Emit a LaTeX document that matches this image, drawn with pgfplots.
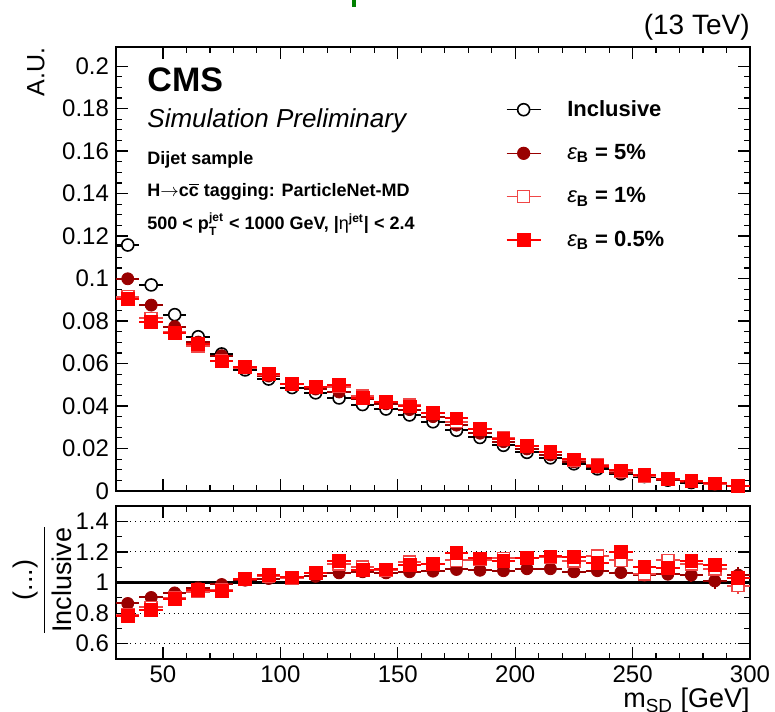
\documentclass[border=0pt]{standalone}
\usepackage{fontspec}
\setmainfont{Liberation Sans}
\usepackage{amsmath}
\usepackage{pgfplots}
\usepackage{pgfplotstable}
\pgfplotsset{compat=1.18}

\definecolor{colfive}{RGB}{153,0,0}
\definecolor{colone}{RGB}{240,70,70}
\definecolor{colhalf}{RGB}{255,0,0}

% normalised m_SD distributions
\pgfplotstableread{
x   inc    p5     p1     p05    me
35  0.1158 0.0999 0.0915 0.0903 0.0010
45  0.0970 0.0875 0.0812 0.0795 0.0010
55  0.0830 0.0774 0.0747 0.0743 0.0009
65  0.0726 0.0701 0.0682 0.0693 0.0008
75  0.0645 0.0637 0.0613 0.0610 0.0008
85  0.0570 0.0579 0.0581 0.0583 0.0007
95  0.0527 0.0541 0.0548 0.0552 0.0007
105 0.0487 0.0502 0.0502 0.0503 0.0007
115 0.0462 0.0480 0.0490 0.0491 0.0006
125 0.0438 0.0466 0.0491 0.0499 0.0006
135 0.0407 0.0435 0.0448 0.0440 0.0006
145 0.0386 0.0410 0.0417 0.0419 0.0006
155 0.0358 0.0383 0.0406 0.0398 0.0006
165 0.0326 0.0350 0.0365 0.0366 0.0005
175 0.0286 0.0310 0.0327 0.0342 0.0005
185 0.0252 0.0272 0.0290 0.0292 0.0005
195 0.0215 0.0232 0.0249 0.0245 0.0005
205 0.0182 0.0198 0.0211 0.0212 0.0004
215 0.0156 0.0170 0.0182 0.0183 0.0004
225 0.0128 0.0137 0.0146 0.0149 0.0004
235 0.0104 0.0112 0.0122 0.0118 0.0004
245 0.0081 0.0086 0.0093 0.0097 0.0003
255 0.0068 0.0071 0.0072 0.0075 0.0003
265 0.0051 0.0054 0.0058 0.0056 0.0003
275 0.0040 0.0042 0.0045 0.0046 0.0003
285 0.0032 0.0032 0.0035 0.0036 0.0003
295 0.0023 0.0024 0.0023 0.0024 0.0002
}\main

% ratios to inclusive
\pgfplotstableread{
x   r5    r1    r05   re
35  0.863 0.790 0.780 0.015
45  0.902 0.837 0.820 0.015
55  0.932 0.900 0.895 0.015
65  0.965 0.940 0.954 0.015
75  0.987 0.950 0.945 0.015
85  1.015 1.020 1.022 0.015
95  1.026 1.040 1.048 0.015
105 1.030 1.030 1.033 0.015
115 1.040 1.060 1.063 0.015
125 1.063 1.120 1.140 0.018
135 1.070 1.100 1.080 0.018
145 1.063 1.080 1.085 0.018
155 1.070 1.135 1.113 0.020
165 1.074 1.120 1.124 0.020
175 1.085 1.145 1.196 0.022
185 1.080 1.150 1.157 0.022
195 1.077 1.157 1.140 0.025
205 1.090 1.160 1.163 0.025
215 1.090 1.165 1.170 0.028
225 1.070 1.140 1.167 0.030
235 1.077 1.175 1.130 0.032
245 1.065 1.145 1.200 0.035
255 1.048 1.054 1.100 0.038
265 1.054 1.145 1.095 0.040
275 1.048 1.120 1.140 0.045
285 1.010 1.090 1.113 0.050
295 1.048 0.980 1.030 0.055
}\ratio

\pgfplotsset{
  cms/.style={
    scale only axis, width=317pt,
    xmin=30, xmax=300,
    xtick={50,100,...,300}, minor x tick num=4,
    major tick length=6pt, minor tick length=3pt,
    tick style={black, line width=0.6pt},
    axis line style={line width=0.9pt},
    tick label style={font=\fontsize{12}{14}\selectfont},
    /pgf/number format/assume math mode=true,
    scaled y ticks=false,
    yticklabel style={/pgf/number format/fixed, /pgf/number format/precision=2},
  },
  pts/.style={only marks, forget plot,
    error bars/.cd, x dir=both, x fixed=5, y dir=both, y explicit,
    error mark=none, error bar style={line width=1pt, solid}},
  sinc/.style={color=black, mark=*, mark size=3pt, mark options={fill=white, line width=0.8pt}},
  sfive/.style={color=colfive, mark=*, mark size=3pt},
  sone/.style={color=colone, mark=square*, mark size=3pt, mark options={fill=white, line width=0.8pt}},
  shalf/.style={color=colhalf, mark=square*, mark size=3.2pt},
}

\begin{document}
\begin{tikzpicture}
\begin{axis}[cms, name=main,
    height=222pt,
    ymin=0, ymax=0.209,
    ytick={0,0.02,...,0.2}, minor y tick num=3,
    xticklabels=\empty,
    legend style={at={(0.605,0.899)}, anchor=north west, draw=none, fill=none,
      font=\fontsize{11}{13}\selectfont\bfseries, row sep=8.5pt, column sep=11pt},
    legend cell align=left,
]
\addlegendimage{sinc, line width=0.6pt}
\addlegendentry{Inclusive}
\addlegendimage{sfive, line width=0.6pt}
\addlegendentry{{\normalfont\itshape ε}\textsubscript{B} = 5\%}
\addlegendimage{sone, line width=0.6pt}
\addlegendentry{{\normalfont\itshape ε}\textsubscript{B} = 1\%}
\addlegendimage{shalf, line width=0.6pt}
\addlegendentry{{\normalfont\itshape ε}\textsubscript{B} = 0.5\%}

\addplot[sinc, pts] table[x=x, y=inc, y error=me] {\main};
\addplot[sfive, pts] table[x=x, y=p5, y error=me] {\main};
\addplot[sone, pts] table[x=x, y=p1, y error=me] {\main};
\addplot[shalf, pts] table[x=x, y=p05, y error=me] {\main};

\node[anchor=base west, inner sep=0, font=\fontsize{17}{19}\selectfont\bfseries]
  at (axis description cs:0.049,0.899) {CMS};
\node[anchor=base west, inner sep=0, font=\fontsize{13}{15}\selectfont\itshape]
  at (axis description cs:0.049,0.818) {Simulation Preliminary};
\node[anchor=base west, inner sep=0, font=\fontsize{9}{11}\selectfont\bfseries]
  at (axis description cs:0.049,0.736) {Dijet sample};
\node[anchor=base west, inner sep=0, font=\fontsize{9}{11}\selectfont\bfseries]
  at (axis description cs:0.049,0.663) {H$\rightarrow$c$\overline{\text{c}}$ tagging: ParticleNet-MD};
\node[anchor=base west, inner sep=0, font=\fontsize{9}{11}\selectfont\bfseries]
  at (axis description cs:0.049,0.588) {500 < $\text{p}_{\text{T}}^{\text{jet}}$ < 1000 GeV, |{\normalfont η}\textsuperscript{jet}| < 2.4};
\end{axis}

\begin{axis}[cms, name=ratio,
    at={(main.south west)}, anchor=north west, yshift=-7.5pt,
    height=76.5pt,
    ymin=0.5, ymax=1.5,
    ytick={0.6,0.8,1,1.2,1.4}, minor y tick num=1,
    ymajorgrids, grid style={black, dotted, line width=0.5pt},
]
\addplot[black, line width=1.5pt, no marks, forget plot] coordinates {(30,1) (300,1)};
\addplot[sfive, pts] table[x=x, y=r5, y error=re] {\ratio};
\addplot[sone, pts] table[x=x, y=r1, y error=re] {\ratio};
\addplot[shalf, pts] table[x=x, y=r05, y error=re] {\ratio};
\end{axis}

\node[rotate=90, anchor=south east, inner sep=0, font=\fontsize{12.5}{14}\selectfont]
  at ([xshift=-35.5pt]main.north west) {A.U.};
\node[rotate=90, inner sep=0, font=\fontsize{13.5}{15}\selectfont]
  at ([xshift=-37pt,yshift=-37pt]ratio.north west) {$\dfrac{\text{(...)}}{\text{Inclusive}}$};
\node[anchor=north east, inner sep=0, font=\fontsize{13.5}{15}\selectfont]
  at ([yshift=-14.5pt]ratio.south east) {m\textsubscript{SD} [GeV]};
\node[anchor=base east, inner sep=0, font=\fontsize{14}{16}\selectfont]
  at ([yshift=6pt]main.north east) {(13 TeV)};
\fill[green!50!black] ([xshift=118pt,yshift=20pt]main.north west) rectangle ([xshift=120pt,yshift=23.5pt]main.north west);

\pgfresetboundingbox
\path ([xshift=-58pt,yshift=-110pt]main.south west) rectangle ([xshift=329.5pt,yshift=245.5pt]main.south west);
\end{tikzpicture}
\end{document}
